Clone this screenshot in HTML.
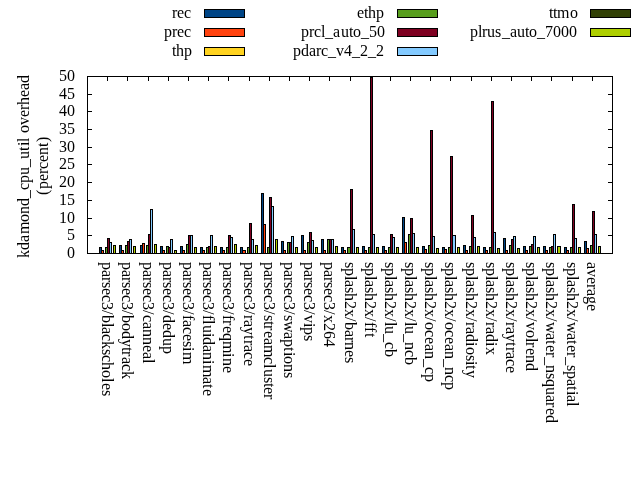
<!DOCTYPE html><html><head><meta charset="utf-8"><title>kdamond_cpu_util overhead</title>
<style>html,body{margin:0;padding:0;background:#fff;}svg{display:block;}text{font-kerning:none;font-variant-ligatures:none;font-family:"Liberation Serif","Times New Roman",serif;font-size:16px;fill:#000;}</style></head><body>
<svg width="640" height="480" viewBox="0 0 640 480">
<rect x="0" y="0" width="640" height="480" fill="#fff"/>
<g shape-rendering="crispEdges" stroke="#000" stroke-width="1">
<rect x="99.5" y="247.5" width="2" height="6" fill="#004586"/>
<rect x="101.5" y="250.5" width="2" height="3" fill="#ff420e"/>
<rect x="105.5" y="247.5" width="2" height="6" fill="#579d1c"/>
<rect x="107.5" y="238.5" width="2" height="15" fill="#7e0021"/>
<rect x="109.5" y="242.5" width="2" height="11" fill="#83caff"/>
<rect x="113.5" y="245.5" width="2" height="8" fill="#aecf00"/>
<rect x="119.5" y="245.5" width="2" height="8" fill="#004586"/>
<rect x="121.5" y="250.5" width="2" height="3" fill="#ff420e"/>
<rect x="125.5" y="245.5" width="2" height="8" fill="#579d1c"/>
<rect x="127.5" y="241.5" width="2" height="12" fill="#7e0021"/>
<rect x="129.5" y="239.5" width="2" height="14" fill="#83caff"/>
<rect x="133.5" y="246.5" width="2" height="7" fill="#aecf00"/>
<rect x="140.5" y="245.5" width="2" height="8" fill="#004586"/>
<rect x="142.5" y="243.5" width="2" height="10" fill="#ff420e"/>
<rect x="146.5" y="245.5" width="2" height="8" fill="#579d1c"/>
<rect x="148.5" y="234.5" width="2" height="19" fill="#7e0021"/>
<rect x="150.5" y="209.5" width="2" height="44" fill="#83caff"/>
<rect x="154.5" y="244.5" width="2" height="9" fill="#aecf00"/>
<rect x="160.5" y="246.5" width="2" height="7" fill="#004586"/>
<rect x="162.5" y="250.5" width="2" height="3" fill="#ff420e"/>
<rect x="166.5" y="246.5" width="2" height="7" fill="#579d1c"/>
<rect x="168.5" y="247.5" width="2" height="6" fill="#7e0021"/>
<rect x="170.5" y="239.5" width="2" height="14" fill="#83caff"/>
<rect x="174.5" y="250.5" width="2" height="3" fill="#aecf00"/>
<rect x="180.5" y="246.5" width="2" height="7" fill="#004586"/>
<rect x="182.5" y="250.5" width="2" height="3" fill="#ff420e"/>
<rect x="186.5" y="244.5" width="2" height="9" fill="#579d1c"/>
<rect x="188.5" y="235.5" width="2" height="18" fill="#7e0021"/>
<rect x="190.5" y="235.5" width="2" height="18" fill="#83caff"/>
<rect x="194.5" y="247.5" width="2" height="6" fill="#aecf00"/>
<rect x="200.5" y="247.5" width="2" height="6" fill="#004586"/>
<rect x="202.5" y="250.5" width="2" height="3" fill="#ff420e"/>
<rect x="206.5" y="247.5" width="2" height="6" fill="#579d1c"/>
<rect x="208.5" y="246.5" width="2" height="7" fill="#7e0021"/>
<rect x="210.5" y="235.5" width="2" height="18" fill="#83caff"/>
<rect x="214.5" y="246.5" width="2" height="7" fill="#aecf00"/>
<rect x="220.5" y="247.5" width="2" height="6" fill="#004586"/>
<rect x="222.5" y="250.5" width="2" height="3" fill="#ff420e"/>
<rect x="226.5" y="247.5" width="2" height="6" fill="#579d1c"/>
<rect x="228.5" y="235.5" width="2" height="18" fill="#7e0021"/>
<rect x="230.5" y="237.5" width="2" height="16" fill="#83caff"/>
<rect x="234.5" y="244.5" width="2" height="9" fill="#aecf00"/>
<rect x="240.5" y="247.5" width="2" height="6" fill="#004586"/>
<rect x="242.5" y="250.5" width="3" height="3" fill="#ff420e"/>
<rect x="247.5" y="247.5" width="2" height="6" fill="#579d1c"/>
<rect x="249.5" y="223.5" width="2" height="30" fill="#7e0021"/>
<rect x="251.5" y="239.5" width="2" height="14" fill="#83caff"/>
<rect x="255.5" y="245.5" width="2" height="8" fill="#aecf00"/>
<rect x="261.5" y="193.5" width="2" height="60" fill="#004586"/>
<rect x="263.5" y="224.5" width="2" height="29" fill="#ff420e"/>
<rect x="267.5" y="247.5" width="2" height="6" fill="#579d1c"/>
<rect x="269.5" y="197.5" width="2" height="56" fill="#7e0021"/>
<rect x="271.5" y="206.5" width="2" height="47" fill="#83caff"/>
<rect x="275.5" y="239.5" width="2" height="14" fill="#aecf00"/>
<rect x="281.5" y="241.5" width="2" height="12" fill="#004586"/>
<rect x="283.5" y="250.5" width="2" height="3" fill="#ff420e"/>
<rect x="287.5" y="242.5" width="2" height="11" fill="#579d1c"/>
<rect x="289.5" y="242.5" width="2" height="11" fill="#7e0021"/>
<rect x="291.5" y="236.5" width="2" height="17" fill="#83caff"/>
<rect x="295.5" y="247.5" width="2" height="6" fill="#aecf00"/>
<rect x="301.5" y="235.5" width="2" height="18" fill="#004586"/>
<rect x="303.5" y="250.5" width="2" height="3" fill="#ff420e"/>
<rect x="307.5" y="242.5" width="2" height="11" fill="#579d1c"/>
<rect x="309.5" y="232.5" width="2" height="21" fill="#7e0021"/>
<rect x="311.5" y="240.5" width="2" height="13" fill="#83caff"/>
<rect x="315.5" y="247.5" width="2" height="6" fill="#aecf00"/>
<rect x="321.5" y="239.5" width="2" height="14" fill="#004586"/>
<rect x="323.5" y="250.5" width="2" height="3" fill="#ff420e"/>
<rect x="327.5" y="239.5" width="2" height="14" fill="#579d1c"/>
<rect x="329.5" y="239.5" width="2" height="14" fill="#7e0021"/>
<rect x="331.5" y="239.5" width="2" height="14" fill="#83caff"/>
<rect x="335.5" y="246.5" width="2" height="7" fill="#aecf00"/>
<rect x="341.5" y="247.5" width="2" height="6" fill="#004586"/>
<rect x="343.5" y="250.5" width="2" height="3" fill="#ff420e"/>
<rect x="347.5" y="247.5" width="3" height="6" fill="#579d1c"/>
<rect x="350.5" y="189.5" width="2" height="64" fill="#7e0021"/>
<rect x="352.5" y="229.5" width="2" height="24" fill="#83caff"/>
<rect x="356.5" y="247.5" width="2" height="6" fill="#aecf00"/>
<rect x="362.5" y="246.5" width="2" height="7" fill="#004586"/>
<rect x="364.5" y="250.5" width="2" height="3" fill="#ff420e"/>
<rect x="368.5" y="247.5" width="2" height="6" fill="#579d1c"/>
<rect x="370.5" y="77.5" width="2" height="176" fill="#7e0021"/>
<rect x="372.5" y="234.5" width="2" height="19" fill="#83caff"/>
<rect x="376.5" y="247.5" width="2" height="6" fill="#aecf00"/>
<rect x="382.5" y="246.5" width="2" height="7" fill="#004586"/>
<rect x="384.5" y="250.5" width="2" height="3" fill="#ff420e"/>
<rect x="388.5" y="247.5" width="2" height="6" fill="#579d1c"/>
<rect x="390.5" y="234.5" width="2" height="19" fill="#7e0021"/>
<rect x="392.5" y="237.5" width="2" height="16" fill="#83caff"/>
<rect x="396.5" y="247.5" width="2" height="6" fill="#aecf00"/>
<rect x="402.5" y="217.5" width="2" height="36" fill="#004586"/>
<rect x="404.5" y="242.5" width="2" height="11" fill="#ff420e"/>
<rect x="408.5" y="234.5" width="2" height="19" fill="#579d1c"/>
<rect x="410.5" y="218.5" width="2" height="35" fill="#7e0021"/>
<rect x="412.5" y="233.5" width="2" height="20" fill="#83caff"/>
<rect x="416.5" y="247.5" width="2" height="6" fill="#aecf00"/>
<rect x="422.5" y="246.5" width="2" height="7" fill="#004586"/>
<rect x="424.5" y="249.5" width="2" height="4" fill="#ff420e"/>
<rect x="428.5" y="245.5" width="2" height="8" fill="#579d1c"/>
<rect x="430.5" y="130.5" width="2" height="123" fill="#7e0021"/>
<rect x="432.5" y="236.5" width="2" height="17" fill="#83caff"/>
<rect x="436.5" y="248.5" width="2" height="5" fill="#aecf00"/>
<rect x="442.5" y="247.5" width="2" height="6" fill="#004586"/>
<rect x="444.5" y="249.5" width="2" height="4" fill="#ff420e"/>
<rect x="448.5" y="247.5" width="2" height="6" fill="#579d1c"/>
<rect x="450.5" y="156.5" width="2" height="97" fill="#7e0021"/>
<rect x="452.5" y="235.5" width="3" height="18" fill="#83caff"/>
<rect x="457.5" y="247.5" width="2" height="6" fill="#aecf00"/>
<rect x="463.5" y="245.5" width="2" height="8" fill="#004586"/>
<rect x="465.5" y="250.5" width="2" height="3" fill="#ff420e"/>
<rect x="469.5" y="246.5" width="2" height="7" fill="#579d1c"/>
<rect x="471.5" y="215.5" width="2" height="38" fill="#7e0021"/>
<rect x="473.5" y="237.5" width="2" height="16" fill="#83caff"/>
<rect x="477.5" y="246.5" width="2" height="7" fill="#aecf00"/>
<rect x="483.5" y="247.5" width="2" height="6" fill="#004586"/>
<rect x="485.5" y="250.5" width="2" height="3" fill="#ff420e"/>
<rect x="489.5" y="247.5" width="2" height="6" fill="#579d1c"/>
<rect x="491.5" y="101.5" width="2" height="152" fill="#7e0021"/>
<rect x="493.5" y="232.5" width="2" height="21" fill="#83caff"/>
<rect x="497.5" y="248.5" width="2" height="5" fill="#aecf00"/>
<rect x="503.5" y="238.5" width="2" height="15" fill="#004586"/>
<rect x="505.5" y="250.5" width="2" height="3" fill="#ff420e"/>
<rect x="509.5" y="245.5" width="2" height="8" fill="#579d1c"/>
<rect x="511.5" y="239.5" width="2" height="14" fill="#7e0021"/>
<rect x="513.5" y="236.5" width="2" height="17" fill="#83caff"/>
<rect x="517.5" y="248.5" width="2" height="5" fill="#aecf00"/>
<rect x="523.5" y="246.5" width="2" height="7" fill="#004586"/>
<rect x="525.5" y="250.5" width="2" height="3" fill="#ff420e"/>
<rect x="529.5" y="246.5" width="2" height="7" fill="#579d1c"/>
<rect x="531.5" y="244.5" width="2" height="9" fill="#7e0021"/>
<rect x="533.5" y="236.5" width="2" height="17" fill="#83caff"/>
<rect x="537.5" y="247.5" width="2" height="6" fill="#aecf00"/>
<rect x="543.5" y="246.5" width="2" height="7" fill="#004586"/>
<rect x="545.5" y="250.5" width="2" height="3" fill="#ff420e"/>
<rect x="549.5" y="247.5" width="2" height="6" fill="#579d1c"/>
<rect x="551.5" y="246.5" width="2" height="7" fill="#7e0021"/>
<rect x="553.5" y="234.5" width="2" height="19" fill="#83caff"/>
<rect x="557.5" y="246.5" width="3" height="7" fill="#aecf00"/>
<rect x="564.5" y="247.5" width="2" height="6" fill="#004586"/>
<rect x="566.5" y="250.5" width="2" height="3" fill="#ff420e"/>
<rect x="570.5" y="247.5" width="2" height="6" fill="#579d1c"/>
<rect x="572.5" y="204.5" width="2" height="49" fill="#7e0021"/>
<rect x="574.5" y="238.5" width="2" height="15" fill="#83caff"/>
<rect x="578.5" y="247.5" width="2" height="6" fill="#aecf00"/>
<rect x="584.5" y="241.5" width="2" height="12" fill="#004586"/>
<rect x="586.5" y="248.5" width="2" height="5" fill="#ff420e"/>
<rect x="590.5" y="245.5" width="2" height="8" fill="#579d1c"/>
<rect x="592.5" y="211.5" width="2" height="42" fill="#7e0021"/>
<rect x="594.5" y="234.5" width="2" height="19" fill="#83caff"/>
<rect x="598.5" y="246.5" width="2" height="7" fill="#aecf00"/>
<g stroke="none" fill="#000">
<rect x="87" y="253" width="5" height="1"/><rect x="608" y="253" width="5" height="1"/>
<rect x="87" y="235" width="5" height="1"/><rect x="608" y="235" width="5" height="1"/>
<rect x="87" y="218" width="5" height="1"/><rect x="608" y="218" width="5" height="1"/>
<rect x="87" y="200" width="5" height="1"/><rect x="608" y="200" width="5" height="1"/>
<rect x="87" y="182" width="5" height="1"/><rect x="608" y="182" width="5" height="1"/>
<rect x="87" y="164" width="5" height="1"/><rect x="608" y="164" width="5" height="1"/>
<rect x="87" y="147" width="5" height="1"/><rect x="608" y="147" width="5" height="1"/>
<rect x="87" y="129" width="5" height="1"/><rect x="608" y="129" width="5" height="1"/>
<rect x="87" y="111" width="5" height="1"/><rect x="608" y="111" width="5" height="1"/>
<rect x="87" y="94" width="5" height="1"/><rect x="608" y="94" width="5" height="1"/>
<rect x="87" y="76" width="5" height="1"/><rect x="608" y="76" width="5" height="1"/>
<rect x="107" y="76" width="1" height="5"/>
<rect x="127" y="76" width="1" height="5"/>
<rect x="148" y="76" width="1" height="5"/>
<rect x="168" y="76" width="1" height="5"/>
<rect x="188" y="76" width="1" height="5"/>
<rect x="208" y="76" width="1" height="5"/>
<rect x="228" y="76" width="1" height="5"/>
<rect x="249" y="76" width="1" height="5"/>
<rect x="269" y="76" width="1" height="5"/>
<rect x="289" y="76" width="1" height="5"/>
<rect x="309" y="76" width="1" height="5"/>
<rect x="329" y="76" width="1" height="5"/>
<rect x="350" y="76" width="1" height="5"/>
<rect x="370" y="76" width="1" height="5"/>
<rect x="390" y="76" width="1" height="5"/>
<rect x="410" y="76" width="1" height="5"/>
<rect x="430" y="76" width="1" height="5"/>
<rect x="450" y="76" width="1" height="5"/>
<rect x="471" y="76" width="1" height="5"/>
<rect x="491" y="76" width="1" height="5"/>
<rect x="511" y="76" width="1" height="5"/>
<rect x="531" y="76" width="1" height="5"/>
<rect x="551" y="76" width="1" height="5"/>
<rect x="572" y="76" width="1" height="5"/>
<rect x="592" y="76" width="1" height="5"/>
</g>
<rect x="87.5" y="76.5" width="525" height="177" fill="none"/>
<rect x="204.5" y="9.5" width="40" height="8" fill="#004586"/>
<rect x="204.5" y="28.5" width="40" height="8" fill="#ff420e"/>
<rect x="204.5" y="47.5" width="40" height="8" fill="#ffd320"/>
<rect x="397.5" y="9.5" width="40" height="8" fill="#579d1c"/>
<rect x="397.5" y="28.5" width="40" height="8" fill="#7e0021"/>
<rect x="397.5" y="47.5" width="40" height="8" fill="#83caff"/>
<rect x="590.5" y="9.5" width="40" height="8" fill="#314004"/>
<rect x="590.5" y="28.5" width="40" height="8" fill="#aecf00"/>
</g>
<text x="172 177 184" y="18">rec</text>
<text x="164 172 177 184" y="37">prec</text>
<text x="172 176 184" y="56">thp</text>
<text x="357 364 368 376" y="18">ethp</text>
<text x="301 309 314 321 325 333 341 349 353 361 369 377" y="37">prcl_auto_50</text>
<text x="293 301 309 316 321 328 336 344 352 360 368 376" y="56">pdarc_v4_2_2</text>
<text x="549 553 557 570" y="18">ttmo</text>
<text x="470 478 482 487 495 502 510 517 525 529 537 545 553 561 569" y="37">plrus_auto_7000</text>
<text x="67" y="258">0</text>
<text x="67" y="240">5</text>
<text x="59 67" y="223">10</text>
<text x="59 67" y="205">15</text>
<text x="59 67" y="187">20</text>
<text x="59 67" y="169">25</text>
<text x="59 67" y="152">30</text>
<text x="59 67" y="134">35</text>
<text x="59 67" y="116">40</text>
<text x="59 67" y="99">45</text>
<text x="59 67" y="81">50</text>
<text transform="translate(102,262) rotate(90)" x="0 8 15 20 26 33 40 48 53 61 65 72 79 87 93 100 108 116 121 128" y="0">parsec3/blackscholes</text>
<text transform="translate(122,262) rotate(90)" x="0 8 15 20 26 33 40 48 53 61 69 77 85 89 95 102 109" y="0">parsec3/bodytrack</text>
<text transform="translate(143,262) rotate(90)" x="0 8 15 20 26 33 40 48 53 60 67 75 83 90 97" y="0">parsec3/canneal</text>
<text transform="translate(163,262) rotate(90)" x="0 8 15 20 26 33 40 48 53 61 68 76 84" y="0">parsec3/dedup</text>
<text transform="translate(183,262) rotate(90)" x="0 8 15 20 26 33 40 48 53 58 65 72 79 85 90" y="0">parsec3/facesim</text>
<text transform="translate(203,262) rotate(90)" x="0 8 15 20 26 33 40 48 53 58 63 71 75 83 90 98 103 115 122 127" y="0">parsec3/fluidanimate</text>
<text transform="translate(223,262) rotate(90)" x="0 8 15 20 26 33 40 48 53 58 64 71 79 91 96 104" y="0">parsec3/freqmine</text>
<text transform="translate(244,262) rotate(90)" x="0 8 15 20 26 33 40 48 53 58 65 73 78 83 90 97" y="0">parsec3/raytrace</text>
<text transform="translate(264,262) rotate(90)" x="0 8 15 20 26 33 40 48 53 59 63 69 76 83 95 102 107 115 121 125 132" y="0">parsec3/streamcluster</text>
<text transform="translate(284,262) rotate(90)" x="0 8 15 20 26 33 40 48 53 59 70 77 85 90 94 102 110" y="0">parsec3/swaptions</text>
<text transform="translate(304,262) rotate(90)" x="0 8 15 20 26 33 40 48 53 61 65 73" y="0">parsec3/vips</text>
<text transform="translate(324,262) rotate(90)" x="0 8 15 20 26 33 40 48 53 61 69 77" y="0">parsec3/x264</text>
<text transform="translate(345,262) rotate(90)" x="0 6 14 18 25 31 39 47 55 60 68 75 80 88 95" y="0">splash2x/barnes</text>
<text transform="translate(365,262) rotate(90)" x="0 6 14 18 25 31 39 47 55 60 65 71" y="0">splash2x/fft</text>
<text transform="translate(385,262) rotate(90)" x="0 6 14 18 25 31 39 47 55 60 64 72 80 87" y="0">splash2x/lu_cb</text>
<text transform="translate(405,262) rotate(90)" x="0 6 14 18 25 31 39 47 55 60 64 72 80 88 95" y="0">splash2x/lu_ncb</text>
<text transform="translate(425,262) rotate(90)" x="0 6 14 18 25 31 39 47 55 60 68 75 82 89 97 105 112" y="0">splash2x/ocean_cp</text>
<text transform="translate(445,262) rotate(90)" x="0 6 14 18 25 31 39 47 55 60 68 75 82 89 97 105 113 120" y="0">splash2x/ocean_ncp</text>
<text transform="translate(466,262) rotate(90)" x="0 6 14 18 25 31 39 47 55 60 65 72 80 85 93 99 103 108" y="0">splash2x/radiosity</text>
<text transform="translate(486,262) rotate(90)" x="0 6 14 18 25 31 39 47 55 60 65 72 80 85" y="0">splash2x/radix</text>
<text transform="translate(506,262) rotate(90)" x="0 6 14 18 25 31 39 47 55 60 65 72 80 85 90 97 104" y="0">splash2x/raytrace</text>
<text transform="translate(526,262) rotate(90)" x="0 6 14 18 25 31 39 47 55 60 68 76 80 86 93 101" y="0">splash2x/volrend</text>
<text transform="translate(546,262) rotate(90)" x="0 6 14 18 25 31 39 47 55 60 71 78 83 90 95 103 111 117 125 133 140 146 153" y="0">splash2x/water_nsquared</text>
<text transform="translate(567,262) rotate(90)" x="0 6 14 18 25 31 39 47 55 60 71 78 83 90 95 103 109 117 124 129 133 140" y="0">splash2x/water_spatial</text>
<text transform="translate(587,262) rotate(90)" x="0 7 15 22 27 34 42" y="0">average</text>
<text transform="translate(29,258) rotate(-90)" x="0 8 16 24 36 44 52 60 68 75 83 91 99 107 112 116 120 125 133 141 148 153 161 168 175" y="0">kdamond_cpu_util overhead</text>
<text transform="translate(48,195) rotate(-90)" x="0 6 14 21 26 33 40 48 53" y="0">(percent)</text>
</svg></body></html>
